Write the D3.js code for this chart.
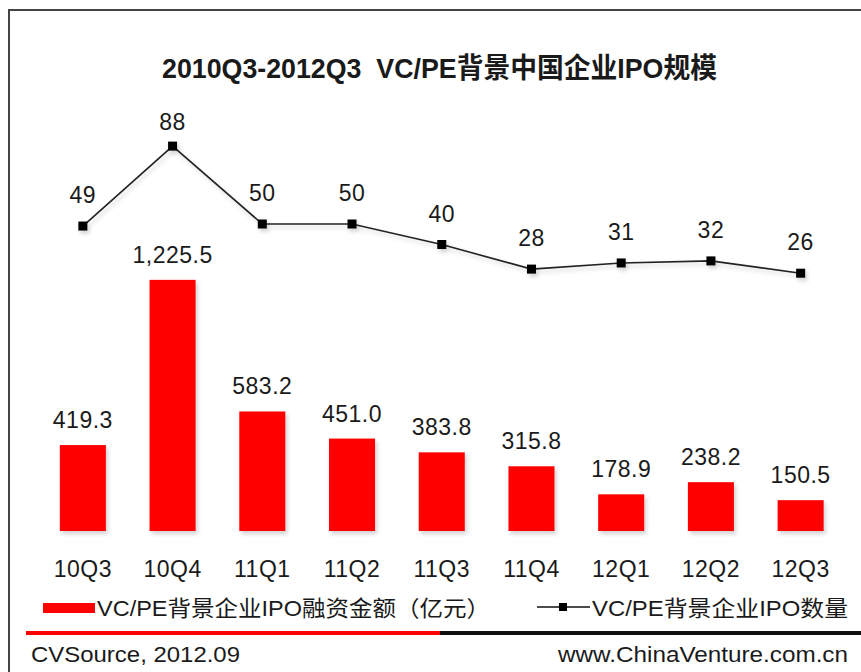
<!DOCTYPE html>
<html>
<head>
<meta charset="utf-8">
<script src="https://cdn.jsdelivr.net/npm/d3@7"></script>
<style>
  body { margin: 0; background: #fff; }
  text { font-family: "Liberation Sans", Arial, "Noto Sans CJK SC", sans-serif; fill: #1a1a1a; white-space: pre; }
</style>
</head>
<body>
<div id="chart"></div>
<script>
var quarters = ["10Q3", "10Q4", "11Q1", "11Q2", "11Q3", "11Q4", "12Q1", "12Q2", "12Q3"];
var amounts = [419.3, 1225.5, 583.2, 451.0, 383.8, 315.8, 178.9, 238.2, 150.5];
var counts = [49, 88, 50, 50, 40, 28, 31, 32, 26];
var titleText = "2010Q3-2012Q3  VC/PE背景中国企业IPO规模";
var legendNames = ["VC/PE背景企业IPO融资金额（亿元）", "VC/PE背景企业IPO数量"];

var width = 861, height = 672;

var svg = d3.select("#chart")
  .append("svg")
  .attr("width", width)
  .attr("height", height);

// soft shadow like the original
var defs = svg.append("defs");
var f = defs.append("filter").attr("id", "shadow")
  .attr("x", "-20%").attr("y", "-20%").attr("width", "150%").attr("height", "160%");
f.append("feDropShadow").attr("dx", 2).attr("dy", 3).attr("stdDeviation", 2)
  .attr("flood-color", "#000").attr("flood-opacity", 0.18);

// frame
svg.append("path")
  .attr("d", "M9,672 V10 H861")
  .attr("fill", "none")
  .attr("stroke", "#444")
  .attr("stroke-width", 2);

// title
svg.append("text")
  .attr("x", 162).attr("y", 78)
  .attr("textLength", 555)
  .attr("lengthAdjust", "spacingAndGlyphs")
  .style("font-family", "'Liberation Sans Narrow', 'Liberation Sans', 'Noto Sans CJK SC', sans-serif")
  .style("font-weight", "bold")
  .style("font-size", "28px")
  .text(titleText);

var x = d3.scaleBand()
  .domain(quarters)
  .range([38, 845.5])
  .paddingInner(0.487)
  .paddingOuter(0.2435);

var yBar = d3.scaleLinear()
  .domain([0, 1300])
  .range([531, 264.6]);

var yLine = d3.scaleLinear()
  .domain([0, 100])
  .range([326.5, 121.5]);

function cx(d) { return x(d) + x.bandwidth() / 2; }

// bars
svg.selectAll(".bar")
  .data(amounts)
  .enter()
  .append("rect")
  .attr("class", "bar")
  .attr("x", function(d, i) { return x(quarters[i]); })
  .attr("y", function(d) { return yBar(d); })
  .attr("width", x.bandwidth())
  .attr("height", function(d) { return yBar(0) - yBar(d); })
  .attr("fill", "#ff0000")
  .attr("filter", "url(#shadow)");

svg.selectAll(".barLabel")
  .data(amounts)
  .enter()
  .append("text")
  .attr("x", function(d, i) { return cx(quarters[i]); })
  .attr("y", function(d) { return yBar(d) - 17; })
  .attr("text-anchor", "middle")
  .style("font-size", "23px")
  .style("letter-spacing", "0.5px")
  .text(function(d) { return d3.format(",.1f")(d); });

// category labels
svg.selectAll(".cat")
  .data(quarters)
  .enter()
  .append("text")
  .attr("x", function(d) { return cx(d); })
  .attr("y", 577)
  .attr("text-anchor", "middle")
  .style("font-size", "23px")
  .style("letter-spacing", "0.5px")
  .text(function(d) { return d; });

// count line
var line = d3.line()
  .x(function(d, i) { return cx(quarters[i]); })
  .y(function(d) { return yLine(d); });

var lineG = svg.append("g").attr("filter", "url(#shadow)");
lineG.append("path")
  .datum(counts)
  .attr("d", line)
  .attr("fill", "none")
  .attr("stroke", "#222")
  .attr("stroke-width", 1.6);

lineG.selectAll(".mk")
  .data(counts)
  .enter()
  .append("rect")
  .attr("x", function(d, i) { return cx(quarters[i]) - 4.5; })
  .attr("y", function(d) { return yLine(d) - 4.5; })
  .attr("width", 9)
  .attr("height", 9)
  .attr("fill", "#000");

svg.selectAll(".lineLabel")
  .data(counts)
  .enter()
  .append("text")
  .attr("x", function(d, i) { return cx(quarters[i]); })
  .attr("y", function(d) { return Math.max(yLine(d) - 23, 130); })
  .attr("text-anchor", "middle")
  .style("font-size", "23px")
  .style("letter-spacing", "0.5px")
  .text(function(d) { return d; });

// legend
svg.append("rect")
  .attr("x", 43).attr("y", 603)
  .attr("width", 52).attr("height", 10)
  .attr("fill", "#ff0000");
svg.append("text")
  .attr("x", 97).attr("y", 616)
  .attr("textLength", 393)
  .attr("lengthAdjust", "spacingAndGlyphs")
  .style("font-size", "22px")
  .text(legendNames[0]);

svg.append("line")
  .attr("x1", 537).attr("x2", 590)
  .attr("y1", 607).attr("y2", 607)
  .attr("stroke", "#111").attr("stroke-width", 1.6);
svg.append("rect")
  .attr("x", 559).attr("y", 603)
  .attr("width", 8).attr("height", 8)
  .attr("fill", "#000");
svg.append("text")
  .attr("x", 592).attr("y", 616)
  .attr("textLength", 256)
  .attr("lengthAdjust", "spacingAndGlyphs")
  .style("font-size", "22px")
  .text(legendNames[1]);

// separator
svg.append("line")
  .attr("x1", 26).attr("x2", 440)
  .attr("y1", 633).attr("y2", 633)
  .attr("stroke", "#ff0000").attr("stroke-width", 4);
svg.append("line")
  .attr("x1", 440).attr("x2", 861)
  .attr("y1", 633).attr("y2", 633)
  .attr("stroke", "#111").attr("stroke-width", 4);

// footer
svg.append("text")
  .attr("x", 31).attr("y", 662)
  .attr("textLength", 209)
  .attr("lengthAdjust", "spacingAndGlyphs")
  .style("font-size", "22px")
  .text("CVSource, 2012.09");
svg.append("text")
  .attr("x", 558).attr("y", 662)
  .attr("textLength", 290)
  .attr("lengthAdjust", "spacingAndGlyphs")
  .style("font-size", "22px")
  .text("www.ChinaVenture.com.cn");
</script>
</body>
</html>
